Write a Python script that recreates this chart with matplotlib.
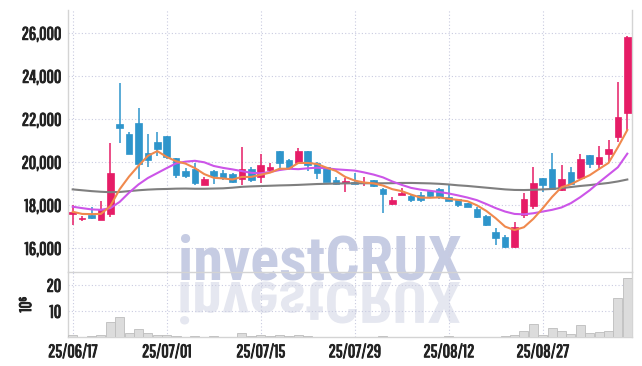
import matplotlib
matplotlib.use("Agg")
import matplotlib.pyplot as plt
import matplotlib.patheffects as pe
import pandas as pd
from matplotlib.textpath import TextPath
from matplotlib.patches import PathPatch
from matplotlib.font_manager import FontProperties
from matplotlib.transforms import Affine2D
from matplotlib.ticker import FuncFormatter

TICK_FONT = ['Pathway Gothic One', 'Roboto Condensed', 'DejaVu Sans']
WM_FONT = ['Roboto Condensed', 'DejaVu Sans']
plt.rcParams['font.family'] = TICK_FONT

# trading days (KRX, 8/15 holiday)
dates = [d for d in pd.bdate_range("2025-06-17", "2025-09-09") if d != pd.Timestamp("2025-08-15")]
tick_dates = ["2025-06-17", "2025-07-01", "2025-07-15", "2025-07-29", "2025-08-12", "2025-08-27"]
tick_labels = ["25/06/17", "25/07/01", "25/07/15", "25/07/29", "25/08/12", "25/08/27"]

opens = [17580, 17350, 17530, 17330, 17600, 21800, 21320, 21840, 20420, 20940,
         21220, 20190, 19610, 19670, 18960, 19600, 19520, 19440, 19210, 19690,
         19300, 19640, 20530, 20110, 19950, 20530, 19980, 19770, 19180, 19020,
         19080, 19020, 19180, 18740, 18050, 18480, 18450, 18480, 18670, 18740,
         18370, 18280, 18090, 17810, 17500, 16760, 16510, 16050, 17550, 17980,
         19260, 19690, 18710, 19540, 19260, 20330, 19910, 20370, 21190, 22310]
highs = [18030, 17500, 17900, 18200, 20900, 23670, 21420, 22510, 21300, 21420,
         21230, 20200, 19740, 19950, 19300, 19640, 19640, 19510, 20700, 19800,
         20390, 19980, 20530, 20150, 20650, 20530, 20030, 19780, 19300, 19280,
         19520, 19300, 19180, 18790, 18400, 18820, 18500, 18600, 18700, 18800,
         18940, 18300, 18100, 17900, 17550, 16930, 16600, 17240, 18560, 19770,
         19260, 20450, 19890, 19770, 20390, 20330, 20780, 21040, 23720, 25850]
lows = [17080, 17290, 17350, 17300, 17470, 20880, 20370, 19210, 19770, 20310,
        20140, 19260, 19260, 18940, 18950, 18990, 19180, 19050, 18940, 19100,
        19020, 19490, 19720, 19640, 19920, 19610, 19210, 19090, 18950, 18630,
        18990, 18900, 18850, 17660, 18000, 18460, 18150, 18150, 18330, 18300,
        18210, 17940, 17900, 17420, 17040, 16150, 16030, 16000, 17400, 17810,
        18600, 18710, 18680, 18940, 19230, 19720, 19640, 20030, 20960, 21500]
closes = [17700, 17420, 17420, 17810, 19490, 21600, 20390, 19920, 20110, 20600,
          20230, 19410, 19360, 19050, 19210, 19360, 19260, 19100, 19690, 19180,
          19870, 19770, 19980, 19720, 20530, 19870, 19520, 19100, 18990, 19130,
          18990, 19080, 18910, 18510, 18250, 18560, 18250, 18250, 18430, 18370,
          18210, 18010, 17940, 17470, 17080, 16490, 16070, 16980, 18280, 19020,
          18940, 18740, 19210, 18980, 20150, 19910, 20230, 20620, 22090, 25810]

ma_short = [17700, 17600, 17590, 17600, 17960, 18750, 19340, 19840, 20300, 20520,
            20250, 20050, 19940, 19730, 19450, 19280, 19250, 19200, 19320, 19320,
            19420, 19520, 19700, 19700, 19970, 19970, 19920, 19750, 19600, 19320,
            19150, 19060, 19020, 18920, 18750, 18660, 18500, 18360, 18350, 18370,
            18300, 18250, 18190, 18000, 17740, 17400, 17010, 16850, 16980, 17370,
            17860, 18390, 18840, 18980, 19200, 19400, 19690, 19970, 20700, 21500]
ma_mid = [17935, 17870, 17810, 17790, 17870, 18160, 18590, 18970, 19270, 19500,
          19730, 19950, 20030, 20070, 20000, 19830, 19740, 19670, 19590, 19510,
          19490, 19550, 19640, 19700, 19680, 19720, 19750, 19720, 19675, 19645,
          19615, 19530, 19430, 19300, 19110, 18950, 18810, 18730, 18675, 18620,
          18550, 18460, 18360, 18240, 18060, 17870, 17710, 17600, 17580, 17630,
          17710, 17790, 17900, 18100, 18380, 18700, 19070, 19420, 19770, 20400]
ma_long = [18740, 18700, 18660, 18630, 18610, 18620, 18660, 18700, 18730, 18750,
           18760, 18775, 18780, 18770, 18770, 18780, 18790, 18820, 18860, 18880,
           18895, 18910, 18925, 18935, 18950, 18970, 18990, 19000, 19010, 19020,
           19025, 19025, 19025, 19025, 19030, 19040, 19040, 19030, 19020, 19000,
           18970, 18930, 18900, 18860, 18820, 18780, 18740, 18715, 18710, 18720,
           18740, 18760, 18800, 18850, 18900, 18940, 18990, 19040, 19110, 19200]

# volume in millions
volume = [0.8, 0.3, 0.5, 0.8, 5.8, 7.7, 1.8, 3.2, 1.8, 1.0,
          0.9, 0.5, 0.3, 0.4, 0.3, 0.5, 0.3, 0.3, 1.7, 0.5,
          0.8, 0.5, 0.9, 0.5, 0.7, 0.5, 0.3, 0.3, 0.2, 0.2,
          0.2, 0.2, 0.3, 0.5, 0.2, 0.2, 0.2, 0.2, 0.2, 0.2,
          0.4, 0.2, 0.2, 0.2, 0.2, 0.3, 0.4, 0.9, 2.4, 5.0,
          1.0, 3.5, 2.4, 1.3, 4.6, 1.8, 2.2, 2.4, 15.0, 22.7]

UP = '#e61c66'
DOWN = '#2e95cb'
GRID = '#c9cbe0'
SPINE = '#d4d4d4'
TXT = '#222222'

x = list(range(len(dates)))
tick_pos = [dates.index(pd.Timestamp(d)) for d in tick_dates]

fig = plt.figure(figsize=(6.42, 3.66), dpi=100)
W, H = 642, 366
ax = fig.add_axes([68 / W, (H - 272) / H, 564 / W, 262 / H])
axv = fig.add_axes([68 / W, (H - 337.3) / H, 564 / W, 65.3 / H], sharex=ax)
for a in (ax, axv):
    a.set_facecolor('none')

# candles
colors = [UP if c >= o else DOWN for o, c in zip(opens, closes)]
bottoms = [min(o, c) for o, c in zip(opens, closes)]
heights = [max(abs(c - o), 40) for o, c in zip(opens, closes)]
ax.vlines(x, lows, highs, colors=colors, linewidth=1.1, zorder=3)
ax.bar(x, heights, bottom=bottoms, width=0.72, color=colors, edgecolor=colors, linewidth=0.5, zorder=4)

ax.plot(x, ma_long, color='#7f7f7f', linewidth=1.5, zorder=5)
ax.plot(x, ma_mid, color='#cc55e8', linewidth=1.5, zorder=5)
ax.plot(x, ma_short, color='#f0894d', linewidth=1.5, zorder=6)

ax.set_xlim(-0.5, len(dates) - 0.5)
ax.set_ylim(14900, 27080)
ax.set_yticks([16000, 18000, 20000, 22000, 24000, 26000])
ax.yaxis.set_major_formatter(FuncFormatter(lambda v, p: f"{int(v):,}"))

# volume
axv.bar(x, volume, width=0.95, color='#dcdcdc', edgecolor='#bdbdbd', linewidth=0.6, zorder=3)
axv.set_ylim(0, 25.1)
axv.set_yticks([10, 20])
axv.set_ylabel('10⁶', fontsize=12, color=TXT, labelpad=9)
axv.set_xticks(tick_pos)
axv.set_xticklabels(tick_labels)

bold = [pe.withStroke(linewidth=0.7, foreground=TXT)]
for a in (ax, axv):
    a.grid(True, color=GRID, linestyle=(0, (1, 2)), linewidth=0.8)
    a.set_axisbelow(True)
    a.tick_params(length=0, labelsize=13, labelcolor=TXT, pad=5)
    for lbl in a.get_yticklabels() + a.get_xticklabels():
        lbl.set_path_effects(bold)
    for s in a.spines.values():
        s.set_color(SPINE)
        s.set_linewidth(1.0)
    a.spines['top'].set_visible(False)
axv.yaxis.label.set_path_effects(bold)
plt.setp(ax.get_xticklabels(), visible=False)
axv.tick_params(axis='x', pad=5)

# watermark with reflection
base_y = H - 279
wm = fig.text(320 / W, base_y / H, 'investCRUX', ha='center', va='baseline', fontsize=42,
              fontweight='bold', family=WM_FONT, color='#c6cce3', zorder=-1)
fig.canvas.draw()
bb = wm.get_window_extent()
wm_size = 42 * 284 / bb.width
wm.set_fontsize(wm_size)
fp = FontProperties(family=WM_FONT, weight='bold')
tp = TextPath((0, 0), 'investCRUX', size=wm_size * 100 / 72, prop=fp)
ext = tp.get_extents()
tr = Affine2D().translate(-(ext.x0 + ext.x1) / 2, 0).scale(1, -0.95).translate(320, base_y - 3)
fig.add_artist(PathPatch(tp, transform=tr, facecolor='#e5e7f0', edgecolor='none', zorder=-1))

fig.savefig('out.png', dpi=100)
